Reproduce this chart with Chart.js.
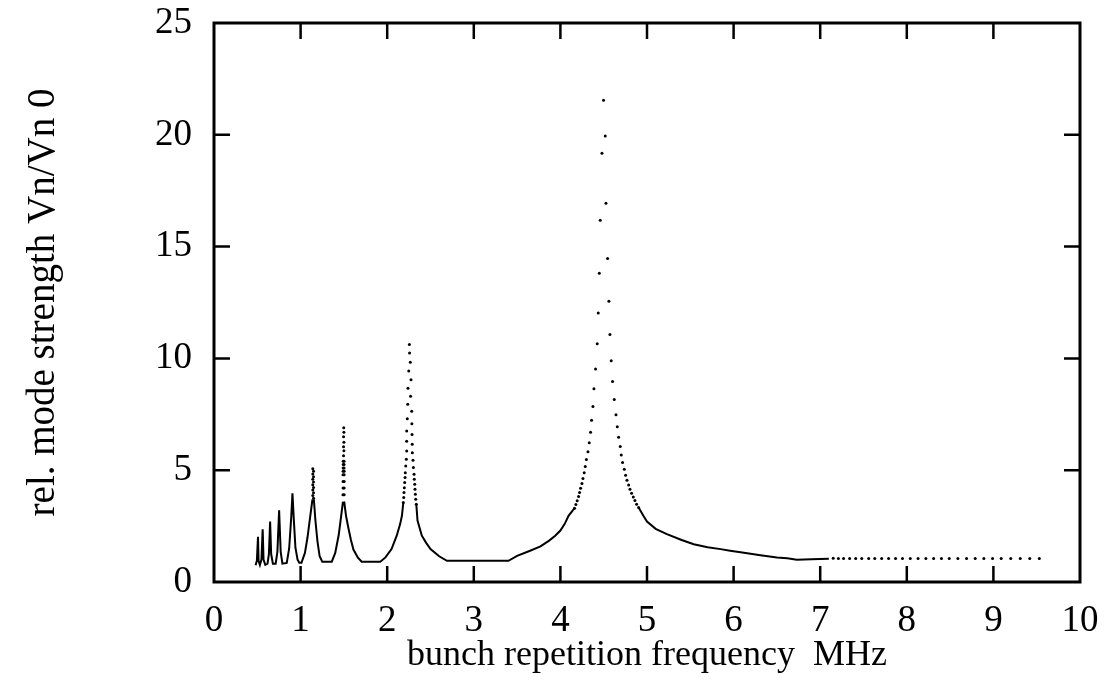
<!DOCTYPE html>
<html><head><meta charset="utf-8">
<script src="https://cdn.jsdelivr.net/npm/chart.js@4.4.1/dist/chart.umd.min.js"></script>
<style>html,body{margin:0;padding:0;background:#fff;overflow:hidden}canvas{display:block}</style>
</head><body>
<canvas id="c" width="1105" height="683"></canvas>
<script>
// ---- data ----
const xTickValues = [0,1,2,3,4,5,6,7,8,9,10];
const yTickValues = [0,5,10,15,20,25];
const xTitle = 'bunch repetition frequency  MHz';
const yTitle = 'rel. mode strength Vn/Vn 0';

// continuous (solid-looking) part of the curve; null = gap at a dotted peak top
const lineFreq = [0.480,0.495,0.508,0.515,0.530,0.548,0.562,0.572,0.592,0.618,0.634,0.648,0.660,0.680,0.712,0.732,0.752,0.770,0.790,0.840,0.868,0.892,0.906,0.920,0.940,0.965,0.985,1.010,1.050,1.080,1.110,1.137,
  1.145,
  1.153,1.170,1.195,1.220,1.250,1.360,1.400,1.440,1.470,1.489,
  1.495,
  1.503,1.525,1.550,1.580,1.610,1.660,1.705,1.920,1.980,2.050,2.110,2.150,2.170,2.186,
  2.26,
  2.336,2.350,2.400,2.450,2.500,2.600,2.690,3.400,3.500,3.650,3.770,3.870,3.940,4.000,4.050,4.094,4.163,
  4.5,
  4.903,4.960,5.000,5.100,5.230,5.400,5.540,5.700,5.850,5.960,6.100,6.310,6.500,6.620,6.730,6.900,7.100];
const lineValue = [0.75,0.95,2.02,0.95,0.76,1.00,2.36,1.00,0.77,0.82,1.25,2.70,1.25,0.82,0.82,1.35,3.21,1.35,0.82,0.85,1.50,2.90,3.97,2.90,1.55,1.00,0.86,0.86,1.30,2.00,2.90,3.70,
  null,
  3.70,2.80,1.80,1.15,0.91,0.91,1.30,2.10,3.00,3.60,
  null,
  3.60,2.95,2.45,1.90,1.45,1.10,0.91,0.91,1.10,1.47,2.07,2.60,2.96,3.55,
  null,
  3.48,2.75,2.07,1.75,1.47,1.15,0.95,0.95,1.17,1.40,1.59,1.85,2.07,2.30,2.60,2.96,3.30,
  null,
  3.33,2.95,2.70,2.38,2.14,1.88,1.69,1.55,1.47,1.40,1.32,1.20,1.10,1.06,1.00,1.02,1.04];

// isolated sample dots (steep peak tops and the high-frequency tail)
const dotFreq = [
  1.141,1.149,1.141,1.149,1.141,1.149,1.141,1.149,1.141,1.149,1.141,1.149,
  1.498,1.500,1.496,1.500,1.496,1.500,1.496,1.492,1.502,1.492,1.502,1.491,1.502,1.491,1.503,1.490,1.503,1.490,1.503,1.490,1.503,1.489,1.503,
  2.256,2.258,2.267,2.249,2.275,2.240,2.270,2.237,2.283,2.232,2.285,2.225,2.287,2.225,2.289,2.225,2.290,2.221,2.298,2.214,2.302,2.209,2.310,2.206,2.313,2.202,2.318,2.198,2.321,2.194,2.325,2.191,2.329,2.186,2.336,
  4.163,4.179,4.194,4.210,4.221,4.233,4.249,4.260,4.275,4.287,4.300,4.318,4.333,4.348,4.360,4.376,4.387,4.406,4.425,4.437,4.449,4.460,4.480,4.498,
  4.518,4.526,4.545,4.560,4.572,4.587,4.602,4.622,4.642,4.657,4.672,4.691,4.703,4.718,4.738,4.753,4.769,4.788,4.803,4.822,4.842,4.861,4.880,4.903,
  7.15,7.21,7.27,7.34,7.41,7.48,7.56,7.63,7.71,7.79,7.87,7.95,8.04,8.13,8.22,8.31,8.40,8.49,8.59,8.69,8.79,8.89,8.99,9.09,9.20,9.31,9.42,9.53];
const dotValue = [
  5.07,4.95,4.83,4.71,4.59,4.47,4.35,4.23,4.11,3.99,3.87,3.75,
  6.90,6.70,6.50,6.25,6.05,5.87,5.65,5.40,5.40,5.25,5.25,5.10,5.10,4.95,4.95,4.80,4.80,4.50,4.50,4.20,4.20,3.90,3.90,
  10.62,10.24,9.83,9.44,9.05,8.67,8.31,7.95,7.64,7.30,7.08,6.75,6.60,6.30,6.16,5.86,5.78,5.49,5.44,5.19,5.12,4.89,4.82,4.67,4.59,4.45,4.37,4.22,4.15,4.00,3.92,3.78,3.70,3.55,3.48,
  3.30,3.47,3.63,3.82,4.00,4.19,4.40,4.63,4.89,5.16,5.48,5.83,6.23,6.70,7.23,7.85,8.64,9.53,10.65,12.03,13.81,16.18,19.18,21.54,
  19.95,16.94,14.47,12.56,11.07,9.90,8.97,8.16,7.48,6.94,6.47,6.06,5.68,5.34,5.04,4.77,4.55,4.34,4.15,3.97,3.80,3.64,3.48,3.33,
  1.06,1.05,1.05,1.05,1.05,1.05,1.05,1.05,1.05,1.05,1.05,1.05,1.05,1.05,1.05,1.05,1.05,1.05,1.05,1.05,1.05,1.05,1.05,1.05,1.05,1.05,1.05,1.05];

const lineData = lineFreq.map((f,i)=>({x:f,y:lineValue[i]}));
const dotData = dotFreq.map((f,i)=>({x:f,y:dotValue[i]}));

const FONT = '"Liberation Serif","Times New Roman",serif';

const framePlugin = {
  id:'frame',
  beforeDraw(chart){
    const c=chart.ctx; c.save(); c.fillStyle='#fff'; c.fillRect(0,0,chart.width,chart.height); c.restore();
  },
  afterDatasetsDraw(chart){
    const {ctx, chartArea:a, scales:{x,y}} = chart;
    ctx.save();
    ctx.strokeStyle='#000';
    ctx.lineWidth=2.5;
    const tl=16;
    ctx.beginPath();
    xTickValues.slice(1,-1).forEach(v=>{
      const px=x.getPixelForValue(v);
      ctx.moveTo(px,a.bottom); ctx.lineTo(px,a.bottom-tl);
      ctx.moveTo(px,a.top); ctx.lineTo(px,a.top+tl);
    });
    yTickValues.slice(1,-1).forEach(v=>{
      const py=y.getPixelForValue(v);
      ctx.moveTo(a.left,py); ctx.lineTo(a.left+tl,py);
      ctx.moveTo(a.right,py); ctx.lineTo(a.right-tl,py);
    });
    ctx.stroke();
    ctx.lineWidth=3;
    ctx.strokeRect(a.left,a.top,a.right-a.left,a.bottom-a.top);
    ctx.restore();
  }
};

function noPad(s){s.paddingTop=0;s.paddingBottom=0;s.paddingLeft=0;s.paddingRight=0;}

new Chart(document.getElementById('c'),{
  type:'line',
  data:{datasets:[
    {data:lineData,borderColor:'#000',borderWidth:2,pointRadius:0,tension:0,spanGaps:false,fill:false},
    {data:dotData,showLine:false,pointRadius:1.5,pointBackgroundColor:'#000',pointBorderWidth:0,pointStyle:'circle'}
  ]},
  options:{
    responsive:false,animation:false,devicePixelRatio:1,
    layout:{padding:{left:0,right:25,top:23,bottom:0}},
    plugins:{legend:{display:false},tooltip:{enabled:false}},
    scales:{
      x:{type:'linear',min:0,max:10,
        afterFit(s){s.height=101;noPad(s);},
        afterBuildTicks(s){s.ticks=xTickValues.map(v=>({value:v}));},
        grid:{display:false,drawTicks:false},border:{display:false},
        ticks:{autoSkip:false,maxRotation:0,padding:17,color:'#000',font:{family:FONT,size:37}},
        title:{display:true,text:xTitle,color:'#000',font:{family:FONT,size:36},padding:{top:0,bottom:6}}
      },
      y:{type:'linear',min:0,max:25,
        afterFit(s){s.width=214;noPad(s);},
        afterBuildTicks(s){s.ticks=yTickValues.map(v=>({value:v}));},
        grid:{display:false,drawTicks:false},border:{display:false},
        ticks:{padding:22,color:'#000',font:{family:FONT,size:37}},
        title:{display:true,text:yTitle,color:'#000',font:{family:FONT,size:39},padding:{top:20,bottom:0}}
      }
    }
  },
  plugins:[framePlugin]
});
</script>
</body></html>
